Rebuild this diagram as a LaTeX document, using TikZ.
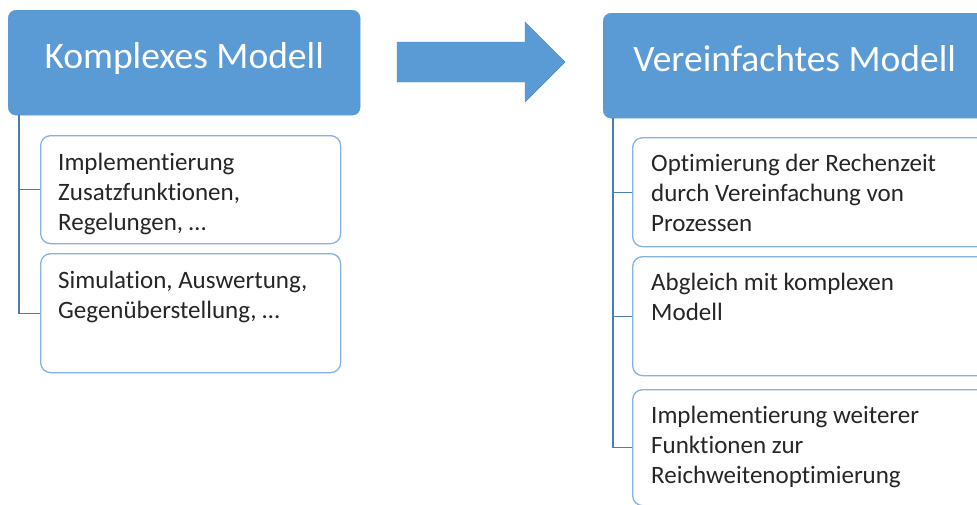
\documentclass[tikz,border=0pt]{standalone}
\usepackage{fontspec}
\setmainfont{Carlito}[Ligatures=NoCommon]
\usetikzlibrary{positioning}
\definecolor{kopfblau}{HTML}{5B9BD5}
\definecolor{rahmenblau}{HTML}{86B2E0}
\definecolor{linienblau}{HTML}{4A7EB0}
\newcommand{\zeile}{\rule{0pt}{20pt}}

\begin{document}
\begin{tikzpicture}[x=1pt,y=-1pt,
	kopf/.style={fill=kopfblau, draw=kopfblau, rounded corners=8pt, anchor=north west, inner sep=0pt,
		text=white, font=\fontsize{37.5}{45}\selectfont, text height=58pt, text depth=47pt},
	feld/.style={fill=white, draw=rahmenblau, line width=1.3pt, rounded corners=10pt, anchor=north west},
	feldtext/.style={anchor=north west, align=left, inner sep=0pt, text=black!85,
		font=\fontsize{25}{30}\selectfont},
	ast/.style={draw=linienblau, line width=1.3pt}]

	\useasboundingbox (0,0) rectangle (977,504);

	\node[kopf, minimum width=352pt] (km) at (8,10) {Komplexes Modell};
	\node[feld, minimum width=300pt, minimum height=108pt] (k1) at (40,135) {};
	\node[feld, minimum width=300pt, minimum height=119pt] (k2) at (40,253) {};
	\node[feldtext] at ([xshift=18pt,yshift=-15pt]k1.north west) {\zeile Implementierung\\Zusatzfunktionen,\\Regelungen, …};
	\node[feldtext] at ([xshift=18pt,yshift=-15pt]k2.north west) {\zeile Simulation, Auswertung,\\Gegenüberstellung, …};
	\draw[ast] ([xshift=11pt]km.south west) |- (k1.west) ([xshift=11pt]km.south west) |- (k2.west);

	\draw[fill=kopfblau, draw=kopfblau!90!black] (397,42) -- (525,42) -- (525,22) -- (565,62) -- (525,102) -- (525,82) -- (397,82) -- cycle;

	\node[kopf, minimum width=383pt] (vm) at (603,13) {Vereinfachtes Modell};
	\node[feld, minimum width=360pt, minimum height=109pt] (v1) at (632,137) {};
	\node[feld, minimum width=360pt, minimum height=119pt] (v2) at (632,256) {};
	\node[feld, minimum width=360pt, minimum height=116pt] (v3) at (632,389) {};
	\node[feldtext] at ([xshift=19pt,yshift=-14pt]v1.north west) {\zeile Optimierung der Rechenzeit\\durch Vereinfachung von\\Prozessen};
	\node[feldtext] at ([xshift=19pt,yshift=-14pt]v2.north west) {\zeile Abgleich mit komplexen\\Modell};
	\node[feldtext] at ([xshift=19pt,yshift=-14pt]v3.north west) {\zeile Implementierung weiterer\\Funktionen zur\\Reichweitenoptimierung};
	\draw[ast] ([xshift=10pt]vm.south west) |- (v1.west) ([xshift=10pt]vm.south west) |- (v2.west)
		([xshift=10pt]vm.south west) |- (v3.west);

\end{tikzpicture}
\end{document}
